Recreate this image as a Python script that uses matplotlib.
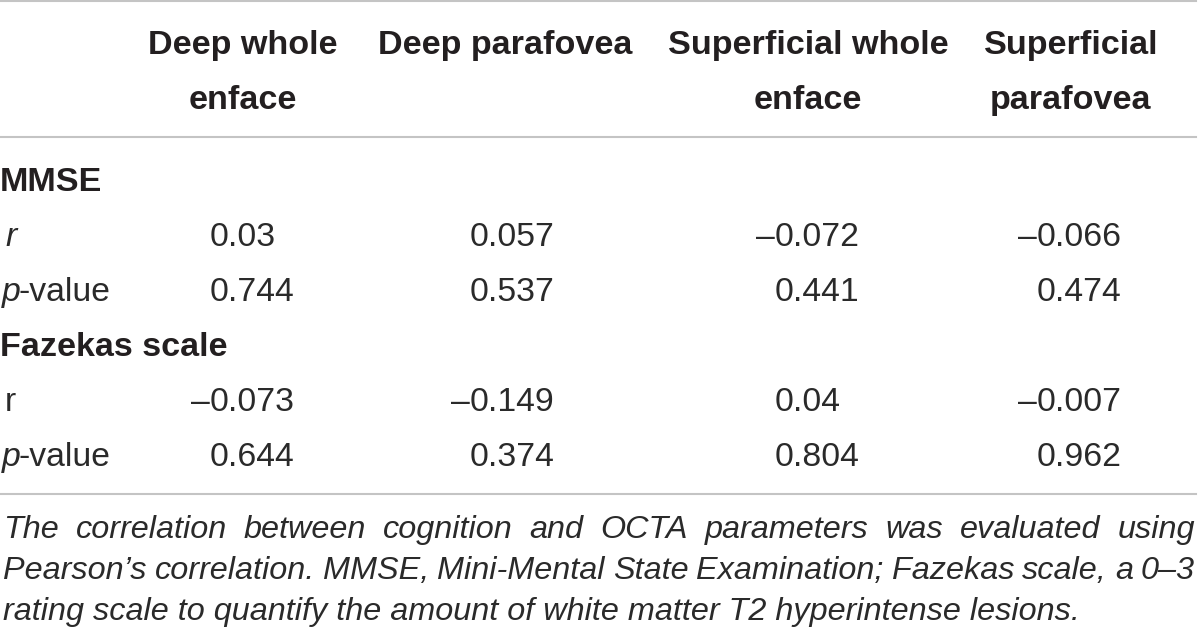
import matplotlib
matplotlib.use("Agg")
import matplotlib.pyplot as plt
from matplotlib.lines import Line2D

# table content
col_titles = [["Deep whole", "enface"], ["Deep parafovea"],
              ["Superficial whole", "enface"], ["Superficial", "parafovea"]]
groups = ["MMSE", "Fazekas scale"]
mmse_r = [0.03, 0.057, -0.072, -0.066]
mmse_p = [0.744, 0.537, 0.441, 0.474]
fazekas_r = [-0.073, -0.149, 0.04, -0.007]
fazekas_p = [0.644, 0.374, 0.804, 0.962]
caption = [
    "The correlation between cognition and OCTA parameters was evaluated using",
    "Pearson\u2019s correlation. MMSE, Mini-Mental State Examination; Fazekas scale, a 0\u20133",
    "rating scale to quantify the amount of white matter T2 hyperintense lesions.",
]

W, H = 1200, 634
FONT = "Liberation Sans"
INK = "#231f20"
BODY_INK = "#2a2a2a"
RULE = "#c4c4c4"

fig = plt.figure(figsize=(W / 100, H / 100), dpi=100)
rend = fig.canvas.get_renderer()


def put(x, y, s, **kw):
    # x, y in pixels from top-left, y is the baseline
    kw.setdefault("family", FONT)
    kw.setdefault("color", BODY_INK)
    kw.setdefault("va", "baseline")
    return fig.text(x / W, 1 - y / H, s, **kw)


def width(t):
    return t.get_window_extent(rend).width


def hline(y):
    fig.add_artist(Line2D([0, 1196 / W], [1 - y / H] * 2, color=RULE, lw=1.5))


hline(1)
hline(137)
hline(494)

HEAD = 24.6
BODY = 24.3

# column headers
head_x = [243, 505, 808, 1071]
for cx, lines in zip(head_x, col_titles):
    for i, s in enumerate(lines):
        put(cx, 54 + i * 55, s, ha="center", fontsize=HEAD, weight="bold",
            color=INK)

# body
num_x = [210, 470, 775, 1037]


def num_row(y, vals):
    for x, v in zip(num_x, vals):
        s = str(abs(v))
        put(x, y, s, ha="left", fontsize=BODY)
        if v < 0:
            put(x, y, "\u2013", ha="right", fontsize=BODY)


def pval_label(y):
    t = put(2, y, "p", fontsize=BODY, style="italic")
    put(2 + width(t) - 2, y, "-value", fontsize=BODY)


put(0, 191, groups[0], fontsize=HEAD, weight="bold", color=INK)
put(5, 246, "r", fontsize=BODY, style="italic")
num_row(246, mmse_r)
pval_label(301)
num_row(301, mmse_p)

put(0, 356, groups[1], fontsize=HEAD, weight="bold", color=INK)
put(5, 411, "r", fontsize=BODY)
num_row(411, fazekas_r)
pval_label(466)
num_row(466, fazekas_p)

# caption, justified except last line
CAP = 23.3
x0, x1 = 3, 1195
for i, line in enumerate(caption):
    y = 538 + i * 41
    if i == len(caption) - 1:
        put(x0, y, line, fontsize=CAP, style="italic")
        continue
    words = line.split(" ")
    ts = [put(0, y, w, fontsize=CAP, style="italic") for w in words]
    ws = [width(t) for t in ts]
    gap = (x1 - x0 - sum(ws)) / (len(ws) - 1)
    x = x0
    for t, w in zip(ts, ws):
        t.set_x(x / W)
        x += w + gap

fig.savefig("out.png", dpi=100, facecolor="white")
